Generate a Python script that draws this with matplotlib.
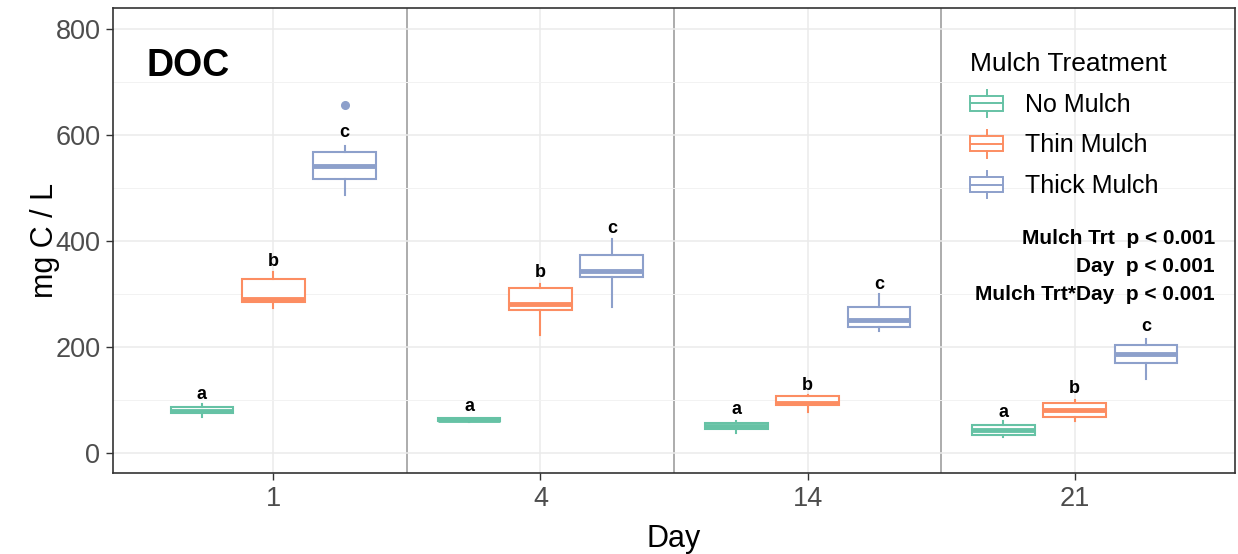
import matplotlib.pyplot as plt
from matplotlib.legend_handler import HandlerBase
from matplotlib.patches import Rectangle, Patch
from matplotlib.lines import Line2D

plt.rcParams['font.family'] = ['Liberation Sans', 'DejaVu Sans']

# data (mg C / L)
days = ['1', '4', '14', '21']
treatments = ['No Mulch', 'Thin Mulch', 'Thick Mulch']
colors = ['#66C2A5', '#FC8D62', '#8DA0CB']

# per treatment, one value per day
whislo = {'No Mulch': [68, 59, 37, 30],
          'Thin Mulch': [274, 223, 77, 61],
          'Thick Mulch': [486, 276, 231, 139]}
q1 = {'No Mulch': [76, 60, 46, 34],
      'Thin Mulch': [285, 270, 91, 67],
      'Thick Mulch': [518, 333, 238, 170]}
med = {'No Mulch': [80, 63, 51, 43],
       'Thin Mulch': [290, 282, 95, 81],
       'Thick Mulch': [541, 344, 251, 186]}
q3 = {'No Mulch': [87, 66, 57, 52],
      'Thin Mulch': [329, 312, 108, 94],
      'Thick Mulch': [569, 374, 275, 203]}
whishi = {'No Mulch': [92, 66, 61, 61],
          'Thin Mulch': [342, 319, 110, 100],
          'Thick Mulch': [580, 404, 300, 215]}
outliers = {'No Mulch': [[], [], [], []],
            'Thin Mulch': [[], [], [], []],
            'Thick Mulch': [[657], [], [], []]}
letters = {'No Mulch': ['a', 'a', 'a', 'a'],
           'Thin Mulch': ['b', 'b', 'b', 'b'],
           'Thick Mulch': ['c', 'c', 'c', 'c']}
letter_y = {'No Mulch': [111, 87, 81, 77],
            'Thin Mulch': [361, 340, 127, 121],
            'Thick Mulch': [605, 423, 318, 238]}

stats_lines = ['Mulch Trt  p < 0.001', 'Day  p < 0.001', 'Mulch Trt*Day  p < 0.001']


class BoxHandler(HandlerBase):
    def create_artists(self, legend, orig_handle, xdescent, ydescent,
                       width, height, fontsize, trans):
        c = orig_handle.get_edgecolor()
        x0, y0 = -xdescent, -ydescent
        cx, cy = x0 + width / 2, y0 + height / 2
        bh = height * 0.55
        rect = Rectangle((x0, cy - bh / 2), width, bh, facecolor='white',
                         edgecolor=c, lw=1.4, transform=trans)
        m = Line2D([x0, x0 + width], [cy, cy], color=c, lw=1.4, transform=trans)
        w1 = Line2D([cx, cx], [cy + bh / 2, y0 + height], color=c, lw=1.4, transform=trans)
        w2 = Line2D([cx, cx], [cy - bh / 2, y0], color=c, lw=1.4, transform=trans)
        return [rect, m, w1, w2]


fig = plt.figure(figsize=(12.38, 5.54), dpi=100)
ax = fig.add_axes([113 / 1238, 81 / 554, 1122 / 1238, 465 / 554])

offsets = [-0.267, 0.0, 0.267]
for t, tr in enumerate(treatments):
    stats = []
    pos = []
    for d in range(len(days)):
        stats.append({'whislo': whislo[tr][d], 'q1': q1[tr][d], 'med': med[tr][d],
                      'q3': q3[tr][d], 'whishi': whishi[tr][d], 'fliers': outliers[tr][d]})
        pos.append(d + 1 + offsets[t])
    ax.bxp(stats, positions=pos, widths=0.235, showcaps=False, patch_artist=True,
           boxprops=dict(facecolor='white', edgecolor=colors[t], lw=1.5),
           medianprops=dict(color=colors[t], lw=3.5),
           whiskerprops=dict(color=colors[t], lw=1.5),
           flierprops=dict(marker='o', markerfacecolor=colors[t], markeredgecolor=colors[t],
                           markersize=5.5),
           zorder=3)
    for d in range(len(days)):
        ax.text(pos[d], letter_y[tr][d], letters[tr][d], ha='center', va='center',
                fontsize=13, fontweight='bold', zorder=4)

ax.set_xlim(0.4, 4.6)
ax.set_ylim(-38, 840)
ax.set_xticks(range(1, len(days) + 1))
ax.set_xticklabels(days)
ax.set_yticks([0, 200, 400, 600, 800])
ax.set_yticks([100, 300, 500, 700], minor=True)
ax.grid(True, which='major', color='#EBEBEB', lw=1.1, zorder=0)
ax.grid(True, which='minor', axis='y', color='#F2F2F2', lw=0.7, zorder=0)
ax.tick_params(axis='both', which='major', labelsize=19.5, colors='#333333',
               labelcolor='#4D4D4D', length=5, width=1, pad=4)
ax.tick_params(axis='y', which='minor', length=0)
for s in ax.spines.values():
    s.set_color('#333333')
    s.set_linewidth(1.2)

for b in [1.5, 2.5, 3.5]:
    ax.axvline(b, color='#A6A6A6', lw=1.3, zorder=1)

ax.set_xlabel('Day', fontsize=22, labelpad=9)
ax.set_ylabel('mg C / L', fontsize=22, labelpad=-3)

ax.text(0.4 + 0.127, 730, 'DOC', fontsize=27, fontweight='bold', ha='left', va='center')

handles = [Patch(facecolor='white', edgecolor=c) for c in colors]
leg = ax.legend(handles, treatments, title='Mulch Treatment', loc='upper left',
                bbox_to_anchor=(970 / 1238, 1 - 52 / 554), bbox_transform=fig.transFigure,
                frameon=False, fontsize=18, title_fontsize=19, handler_map={Patch: BoxHandler()},
                handlelength=1.32, handleheight=1.3, labelspacing=0.54, handletextpad=0.88,
                borderpad=0, borderaxespad=0)
leg._legend_box.align = 'left'

for i, line in enumerate(stats_lines):
    fig.text(1215 / 1238, 1 - (239 + 28 * i) / 554, line, ha='right', va='center',
             fontsize=15, fontweight='bold')

fig.savefig('out.png', dpi=100)
